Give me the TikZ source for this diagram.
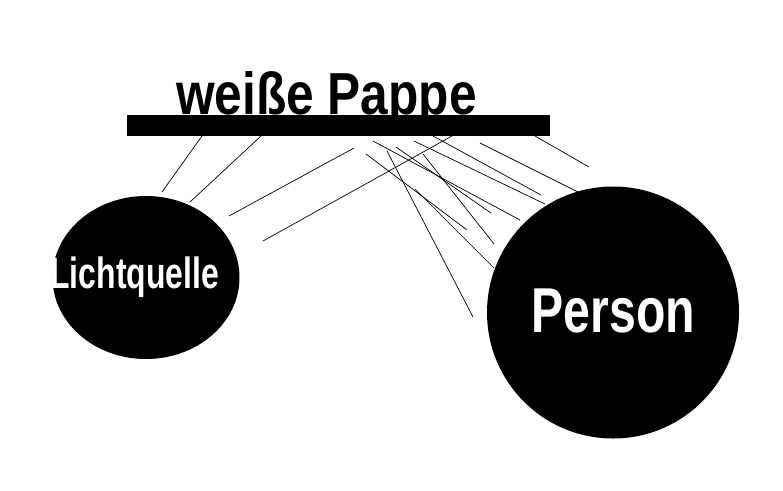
\documentclass[tikz,border=0pt]{standalone}
\usepackage{fontspec}
\setmainfont{Liberation Sans}
\usetikzlibrary{shapes.geometric}
\tikzset{
  blob/.style={fill=black, draw=none, inner sep=0pt},
  ray/.style={line width=0.7pt},
  big/.style={font=\bfseries\fontsize{#1}{#1}\selectfont, anchor=base, inner sep=0pt}
}
\begin{document}
\begin{tikzpicture}[x=1pt, y=-1pt]
    \useasboundingbox (0,0) rectangle (783,490);
    % light source and observer
    \node[blob, ellipse, minimum width=187pt, minimum height=163pt] (licht) at (146,277.5) {};
    \node[blob, circle, minimum size=252pt] (person) at (613,312.5) {};
    \node[big=42, white, xscale=0.76, yscale=1.04] (lichtlabel) at (134.7,288.5) {Lichtquelle};
    \node[big=61, white, xscale=0.79, yscale=1.04] (personlabel) at (613.4,332) {Person};
    % the card
    \node[big=57, xscale=0.87, yscale=1.04] (pappelabel) at (326.5,114) {weiße Pappe};
    \node[blob, rectangle, minimum width=423pt, minimum height=21pt] (pappe) at (338.5,125.5) {};
    % rays towards the light
    \draw[ray] (202,136) -- (162,192);
    \draw[ray] (261,136) -- (190,202);
    \draw[ray] (354,148) -- (229,216);
    \draw[ray] (452,136) -- (263,241);
    % rays towards the person
    \draw[ray] (373,141) -- (520,220);
    \draw[ray] (366,154) -- (467,230);
    \draw[ray] (387,151) -- (473,317);
    \draw[ray] (396,147) -- (491,213);
    \draw[ray] (414,141) -- (545,204);
    \draw[ray] (433,136) -- (541,195);
    \draw[ray] (423,154) -- (494,244);
    \draw[ray] (415,189) -- (494,268);
    \draw[ray] (480,143) -- (578,192);
    \draw[ray] (535,136) -- (589,167);
\end{tikzpicture}
\end{document}
